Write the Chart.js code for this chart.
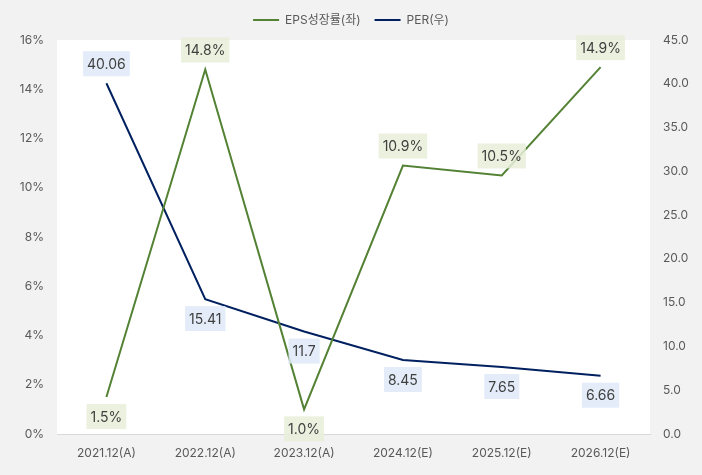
<!DOCTYPE html>
<html>
<head>
<meta charset="utf-8">
<script src="https://cdn.jsdelivr.net/npm/chart.js@4"></script>
<style>
  html, body { margin: 0; padding: 0; background: #f2f2f2; }
  #wrap { width: 702px; height: 475px; }
</style>
</head>
<body>
<div id="wrap"><canvas id="chart"></canvas></div>
<script>
// 데이터
const categories = ['2021.12(A)', '2022.12(A)', '2023.12(A)', '2024.12(E)', '2025.12(E)', '2026.12(E)'];
const epsGrowth = [1.5, 14.8, 1.0, 10.9, 10.5, 14.9];   // %
const per = [40.06, 15.41, 11.7, 8.45, 7.65, 6.66];      // 배
const perLabels = ['40.06', '15.41', '11.7', '8.45', '7.65', '6.66'];

const FONT = "Inter, 'Noto Sans CJK KR', sans-serif";

// 배경 (바깥 회색, 플롯 영역 흰색)
const bgPlugin = {
  id: 'bg',
  beforeLayout(chart) {
    const lg = chart.legend;
    if (lg && !lg._fixed) {
      const fit = lg.fit;
      lg.fit = function () { fit.call(this); this.height = 40; };
      lg._fixed = true;
    }
  },
  beforeDraw(chart) {
    const { ctx, chartArea: a } = chart;
    ctx.save();
    ctx.fillStyle = '#f2f2f2';
    ctx.fillRect(0, 0, chart.width, chart.height);
    ctx.fillStyle = '#ffffff';
    ctx.fillRect(a.left, a.top, a.right - a.left, a.bottom - a.top);
    ctx.restore();
  }
};

// 데이터 레이블 (박스 + 텍스트)
const labelPlugin = {
  id: 'boxLabels',
  afterDatasetsDraw(chart) {
    const ctx = chart.ctx;
    ctx.save();
    ctx.font = '14px ' + FONT;
    ctx.textAlign = 'center';
    ctx.textBaseline = 'middle';
    chart.data.datasets.forEach((ds, i) => {
      const meta = chart.getDatasetMeta(i);
      meta.data.forEach((pt, j) => {
        const txt = ds.labelText(j);
        const w = ctx.measureText(txt).width + 8;
        const h = 25;
        const gap = 7;
        const cy = ds.labelPos[j] === 'above' ? pt.y - gap - h / 2 : pt.y + gap + h / 2;
        ctx.fillStyle = ds.labelBg;
        ctx.fillRect(pt.x - w / 2, cy - h / 2, w, h);
        ctx.fillStyle = '#404040';
        ctx.fillText(txt, pt.x, cy + 1);
      });
    });
    ctx.restore();
  }
};

new Chart(document.getElementById('chart'), {
  type: 'line',
  data: {
    labels: categories,
    datasets: [
      {
        label: 'EPS성장률(좌)',
        data: epsGrowth,
        yAxisID: 'y',
        borderColor: '#548235',
        backgroundColor: '#548235',
        borderWidth: 2,
        pointRadius: 0,
        tension: 0,
        labelBg: 'rgba(231,238,216,0.85)',
        labelPos: ['below', 'above', 'below', 'above', 'above', 'above'],
        labelText: j => epsGrowth[j].toFixed(1) + '%'
      },
      {
        label: 'PER(우)',
        data: per,
        yAxisID: 'y1',
        borderColor: '#002060',
        backgroundColor: '#002060',
        borderWidth: 2,
        pointRadius: 0,
        tension: 0,
        labelBg: 'rgba(222,233,247,0.85)',
        labelPos: ['above', 'below', 'below', 'below', 'below', 'below'],
        labelText: j => perLabels[j]
      }
    ]
  },
  options: {
    responsive: true,
    maintainAspectRatio: false,
    animation: false,
    layout: { padding: 0 },
    plugins: {
      legend: {
        position: 'top',
        labels: {
          usePointStyle: true,
          pointStyle: 'line',
          pointStyleWidth: 26,
          padding: 14,
          color: '#595959',
          font: { family: FONT, size: 12 }
        }
      },
      tooltip: { enabled: false }
    },
    scales: {
      x: {
        offset: true,
        grid: { display: false, drawTicks: false },
        border: { display: true, color: '#d9d9d9', width: 1 },
        ticks: { color: '#595959', font: { family: FONT, size: 12 }, padding: 12, maxRotation: 0 },
        afterFit: s => { s.height = 41; }
      },
      y: {
        position: 'left',
        min: 0,
        max: 16,
        grid: { display: false, drawTicks: false },
        border: { display: false },
        ticks: { stepSize: 2, color: '#595959', font: { family: FONT, size: 12 }, padding: 13,
                 callback: v => v + '%' },
        afterFit: s => { s.width = 57; }
      },
      y1: {
        position: 'right',
        min: 0,
        max: 45,
        grid: { display: false, drawTicks: false },
        border: { display: false },
        ticks: { stepSize: 5, color: '#595959', font: { family: FONT, size: 12 }, padding: 13,
                 callback: v => v.toFixed(1) },
        afterFit: s => { s.width = 52; }
      }
    }
  },
  plugins: [bgPlugin, labelPlugin]
});
</script>
</body>
</html>
